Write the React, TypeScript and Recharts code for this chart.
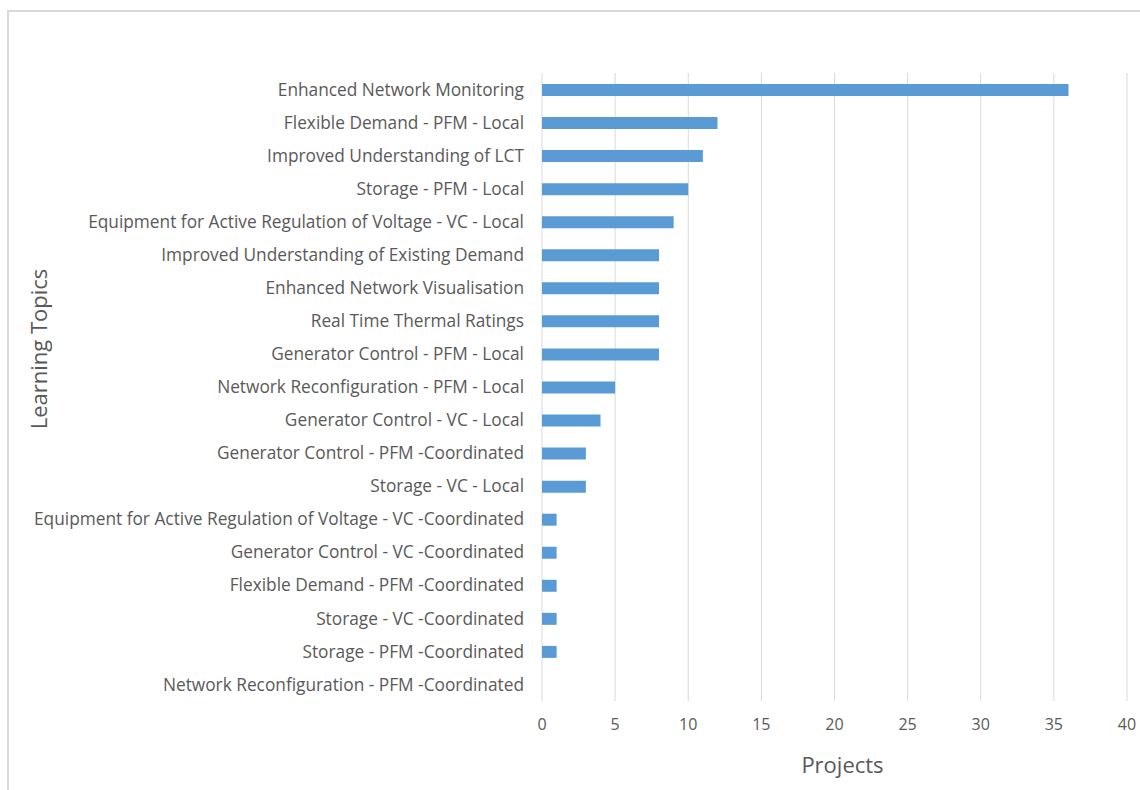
import { BarChart, Bar, XAxis, YAxis, CartesianGrid, Label } from 'recharts';

// learning topics, top to bottom
const topics = [
  'Enhanced Network Monitoring',
  'Flexible Demand - PFM - Local',
  'Improved Understanding of LCT',
  'Storage - PFM - Local',
  'Equipment for Active Regulation of Voltage - VC - Local',
  'Improved Understanding of Existing Demand',
  'Enhanced Network Visualisation',
  'Real Time Thermal Ratings',
  'Generator Control - PFM - Local',
  'Network Reconfiguration - PFM - Local',
  'Generator Control - VC - Local',
  'Generator Control - PFM -Coordinated',
  'Storage - VC - Local',
  'Equipment for Active Regulation of Voltage - VC -Coordinated',
  'Generator Control - VC -Coordinated',
  'Flexible Demand - PFM -Coordinated',
  'Storage - VC -Coordinated',
  'Storage - PFM -Coordinated',
  'Network Reconfiguration - PFM -Coordinated',
];

const projects = [36, 12, 11, 10, 9, 8, 8, 8, 8, 5, 4, 3, 3, 1, 1, 1, 1, 1, 0];

const xTicks = [0, 5, 10, 15, 20, 25, 30, 35, 40];

const data = topics.map((name, i) => ({ name, projects: projects[i] }));

const FONT = '"Open Sans", "Noto Sans", sans-serif';
const TEXT = '#595959';
const GRID = '#d9d9d9';

export default function App() {
  return (
    <div style={{ position: 'absolute', left: 0, top: 0, width: 1140, height: 790, background: '#fff', overflow: 'hidden' }}>
      <div
        style={{
          position: 'absolute',
          left: 7,
          top: 10,
          width: 1140,
          height: 800,
          border: `2px solid ${GRID}`,
          boxSizing: 'border-box',
        }}
      />
      <div style={{ position: 'absolute', left: 0, top: 0 }}>
        <BarChart
          width={1140}
          height={790}
          data={data}
          layout="vertical"
          margin={{ top: 73, right: 13, bottom: 0, left: 30 }}
          barSize={12}
          style={{ fontFamily: FONT }}
        >
          <CartesianGrid horizontal={false} stroke={GRID} strokeWidth={1} />
          <XAxis
            type="number"
            domain={[0, 40]}
            ticks={xTicks}
            tickLine={false}
            axisLine={false}
            tick={{ fill: TEXT, fontSize: 16, fontFamily: FONT }}
            tickMargin={12}
            height={89}
          >
            <Label
              value="Projects"
              position="insideBottom"
              offset={17}
              dx={8}
              style={{ fill: TEXT, fontSize: 22, fontFamily: FONT }}
            />
          </XAxis>
          <YAxis
            type="category"
            dataKey="name"
            width={512}
            tickLine={false}
            axisLine={false}
            interval={0}
            tick={{ fill: TEXT, fontSize: 17.3, fontFamily: FONT }}
            tickMargin={12}
          >
            <Label
              value="Learning Topics"
              angle={-90}
              position="insideLeft"
              offset={9}
              dy={-38}
              style={{ fill: TEXT, fontSize: 22, fontFamily: FONT, textAnchor: 'middle' }}
            />
          </YAxis>
          <Bar dataKey="projects" fill="#5b9bd5" isAnimationActive={false} />
        </BarChart>
      </div>
    </div>
  );
}
